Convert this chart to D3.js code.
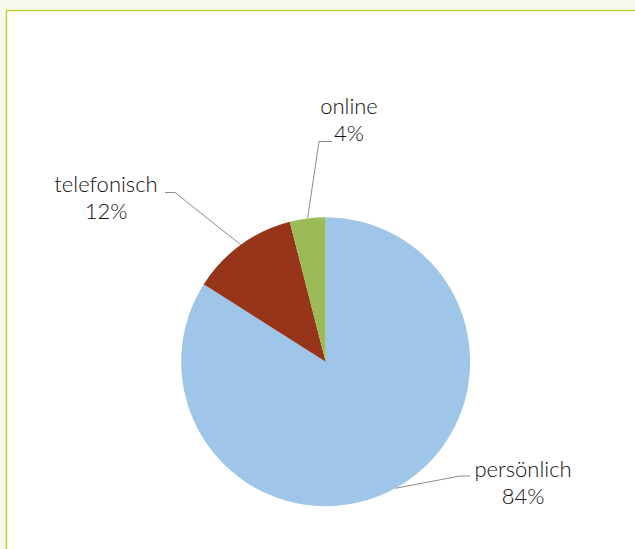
<!DOCTYPE html>
<html>
<head>
<meta charset="utf-8">
<script src="https://cdn.jsdelivr.net/npm/d3@7"></script>
<style>
  html, body { margin: 0; padding: 0; background: #f8f8f0; }
  svg { display: block; }
</style>
</head>
<body>
<svg id="chart" width="635" height="549"></svg>
<script>
// Chart data
const categories = ['persönlich', 'telefonisch', 'online'];
const shares = [84, 12, 4];
const colors = ['#9fc5e8', '#963519', '#9bbb59'];

// Label placement: text centre x, first baseline y, and the elbow of the leader line
const labelPos = [
    { x: 523, y: 477, elbow: [460, 476], end: [470, 476] },
    { x: 106, y: 192, elbow: [175, 192.5], end: [165, 192.5] },
    { x: 349, y: 114, elbow: [319, 141.5], end: [332, 141.5] }
];

const width = 635, height = 549;
const cx = 325.7, cy = 361.7, radius = 144.5;

const svg = d3.select('#chart');

// White plot area with the green frame
svg.append('rect')
    .attr('x', 6.5)
    .attr('y', 10.5)
    .attr('width', width + 10)
    .attr('height', height + 10)
    .attr('fill', '#ffffff')
    .attr('stroke', '#bcd231')
    .attr('stroke-width', 1.5);

const pie = d3.pie().sort(null).value(d => d.value);
const arcs = pie(categories.map((c, i) => ({ name: c, value: shares[i], color: colors[i] })));

const arc = d3.arc().innerRadius(0).outerRadius(radius);

const g = svg.append('g').attr('transform', `translate(${cx},${cy})`);

g.selectAll('path')
    .data(arcs)
    .join('path')
    .attr('d', arc)
    .attr('fill', d => d.data.color);

// Leader lines from the arc edge to the labels
svg.selectAll('polyline.leader')
    .data(arcs)
    .join('polyline')
    .attr('class', 'leader')
    .attr('fill', 'none')
    .attr('stroke', '#8c8c8c')
    .attr('stroke-width', 1)
    .attr('points', (d, i) => {
        let mid = (d.startAngle + d.endAngle) / 2;
        let px = cx + radius * Math.sin(mid);
        let py = cy - radius * Math.cos(mid);
        let p = labelPos[i];
        return [[px, py], p.elbow, p.end].map(q => q.join(',')).join(' ');
    });

// Labels: name on top, percentage underneath
const labels = svg.selectAll('text.lbl')
    .data(arcs)
    .join('text')
    .attr('class', 'lbl')
    .attr('text-anchor', 'middle')
    .attr('font-family', 'Lato, "Open Sans", sans-serif')
    .attr('font-size', 22)
    .attr('font-weight', 300)
    .attr('fill', '#111111');

labels.append('tspan')
    .attr('x', (d, i) => labelPos[i].x)
    .attr('y', (d, i) => labelPos[i].y)
    .text(d => d.data.name);

labels.append('tspan')
    .attr('x', (d, i) => labelPos[i].x)
    .attr('y', (d, i) => labelPos[i].y + 27)
    .text(d => d.data.value + '%');
</script>
</body>
</html>
